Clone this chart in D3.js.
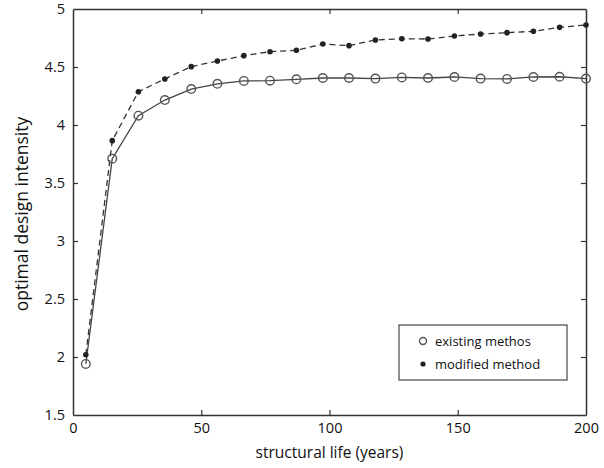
<!DOCTYPE html>
<html>
<head>
<meta charset="utf-8">
<script src="https://cdn.jsdelivr.net/npm/d3@7"></script>
<style>
  body { margin: 0; background: #fff; }
  svg { display: block; font-family: "Open Sans", "Noto Sans", sans-serif; }
</style>
</head>
<body>
<svg width="604" height="468"></svg>
<script>
const WIDTH = 604;
const HEIGHT = 468;
const MARGIN = { top: 9, right: 18, bottom: 53, left: 73 };

const lifeYears = [5, 15.3, 25.5, 35.8, 46.1, 56.3, 66.6, 76.8, 87.1, 97.4,
  107.6, 117.9, 128.2, 138.4, 148.7, 158.9, 169.2, 179.5, 189.7, 200];
const existingMethod = [1.94, 3.71, 4.08, 4.215, 4.31, 4.355, 4.38, 4.382, 4.394, 4.405,
  4.405, 4.40, 4.41, 4.405, 4.414, 4.40, 4.397, 4.414, 4.416, 4.40];
const modifiedMethod = [2.02, 3.865, 4.287, 4.397, 4.503, 4.552, 4.598, 4.632, 4.644, 4.698,
  4.684, 4.733, 4.744, 4.741, 4.767, 4.784, 4.796, 4.808, 4.842, 4.862];
const xTicks = [0, 50, 100, 150, 200];
const yTicks = [1.5, 2, 2.5, 3, 3.5, 4, 4.5, 5];

const svg = d3.select("svg");
const plotW = WIDTH - MARGIN.left - MARGIN.right;
const plotH = HEIGHT - MARGIN.top - MARGIN.bottom;

const x = d3.scaleLinear().domain([0, 200]).range([MARGIN.left, MARGIN.left + plotW]);
const y = d3.scaleLinear().domain([1.5, 5]).range([MARGIN.top + plotH, MARGIN.top]);

const AXIS_COLOR = "#333";
const fmt = d3.format("~g");

// frame with inward ticks on every side
const axes = [
  { gen: d3.axisBottom(x).tickValues(xTicks).tickFormat(fmt).tickSizeInner(-5).tickSizeOuter(0).tickPadding(8), at: `translate(0,${MARGIN.top + plotH})`, labels: true },
  { gen: d3.axisTop(x).tickValues(xTicks).tickSizeInner(-5).tickSizeOuter(0), at: `translate(0,${MARGIN.top})`, labels: false },
  { gen: d3.axisLeft(y).tickValues(yTicks).tickFormat(fmt).tickSizeInner(-5).tickSizeOuter(0).tickPadding(8), at: `translate(${MARGIN.left},0)`, labels: true },
  { gen: d3.axisRight(y).tickValues(yTicks).tickSizeInner(-5).tickSizeOuter(0), at: `translate(${MARGIN.left + plotW},0)`, labels: false },
];

axes.forEach((a) => {
  const g = svg.append("g").attr("transform", a.at).call(a.gen);
  g.select(".domain").attr("stroke", AXIS_COLOR).attr("stroke-width", 1.5);
  g.selectAll(".tick line").attr("stroke", AXIS_COLOR).attr("stroke-width", 1.2);
  g.selectAll(".tick text")
    .attr("font-size", 14.5)
    .attr("fill", "#111")
    .attr("font-family", "'Open Sans', sans-serif")
    .style("display", a.labels ? null : "none");
});

// hide the end ticks that sit on the frame corners
svg.selectAll(".tick").filter((d) => d === 0 || d === 200 || d === 1.5 || d === 5)
  .select("line").attr("display", "none");

const existing = lifeYears.map((t, i) => ({ t, v: existingMethod[i] }));
const modified = lifeYears.map((t, i) => ({ t, v: modifiedMethod[i] }));

const line = d3.line().x((d) => x(d.t)).y((d) => y(d.v));

svg.append("path")
  .datum(modified)
  .attr("d", line)
  .attr("fill", "none")
  .attr("stroke", "#333")
  .attr("stroke-width", 1.3)
  .attr("stroke-dasharray", "6,4");

svg.append("path")
  .datum(existing)
  .attr("d", line)
  .attr("fill", "none")
  .attr("stroke", "#444")
  .attr("stroke-width", 1.3);

svg.selectAll("circle.existing")
  .data(existing)
  .enter()
  .append("circle")
  .classed("existing", true)
  .attr("cx", (d) => x(d.t))
  .attr("cy", (d) => y(d.v))
  .attr("r", 4.3)
  .attr("fill", "none")
  .attr("stroke", "#555")
  .attr("stroke-width", 1.4);

svg.selectAll("circle.modified")
  .data(modified)
  .enter()
  .append("circle")
  .classed("modified", true)
  .attr("cx", (d) => x(d.t))
  .attr("cy", (d) => y(d.v))
  .attr("r", 2.8)
  .attr("fill", "#222");

// axis titles
svg.append("text")
  .attr("x", MARGIN.left + plotW / 2)
  .attr("y", 458)
  .attr("text-anchor", "middle")
  .attr("font-size", 15.5)
  .attr("fill", "#111")
  .text("structural life (years)");

svg.append("text")
  .attr("transform", `translate(22,214) rotate(-90)`)
  .attr("text-anchor", "middle")
  .attr("dy", "0.35em")
  .attr("font-size", 17.5)
  .attr("fill", "#111")
  .text("optimal design intensity");

// legend
const legend = svg.append("g").attr("transform", "translate(399,325)");
legend.append("rect")
  .attr("width", 168)
  .attr("height", 55)
  .attr("fill", "#fff")
  .attr("stroke", "#444")
  .attr("stroke-width", 1.2);
legend.append("circle")
  .attr("cx", 24).attr("cy", 16).attr("r", 3.5)
  .attr("fill", "#fff").attr("stroke", "#555").attr("stroke-width", 1.4);
legend.append("circle")
  .attr("cx", 24).attr("cy", 39).attr("r", 2.6)
  .attr("fill", "#222");
legend.append("text")
  .attr("x", 36).attr("y", 16).attr("dy", "0.35em")
  .attr("font-size", 13).attr("fill", "#111")
  .text("existing methos");
legend.append("text")
  .attr("x", 36).attr("y", 39).attr("dy", "0.35em")
  .attr("font-size", 13).attr("fill", "#111")
  .text("modified method");
</script>
</body>
</html>
